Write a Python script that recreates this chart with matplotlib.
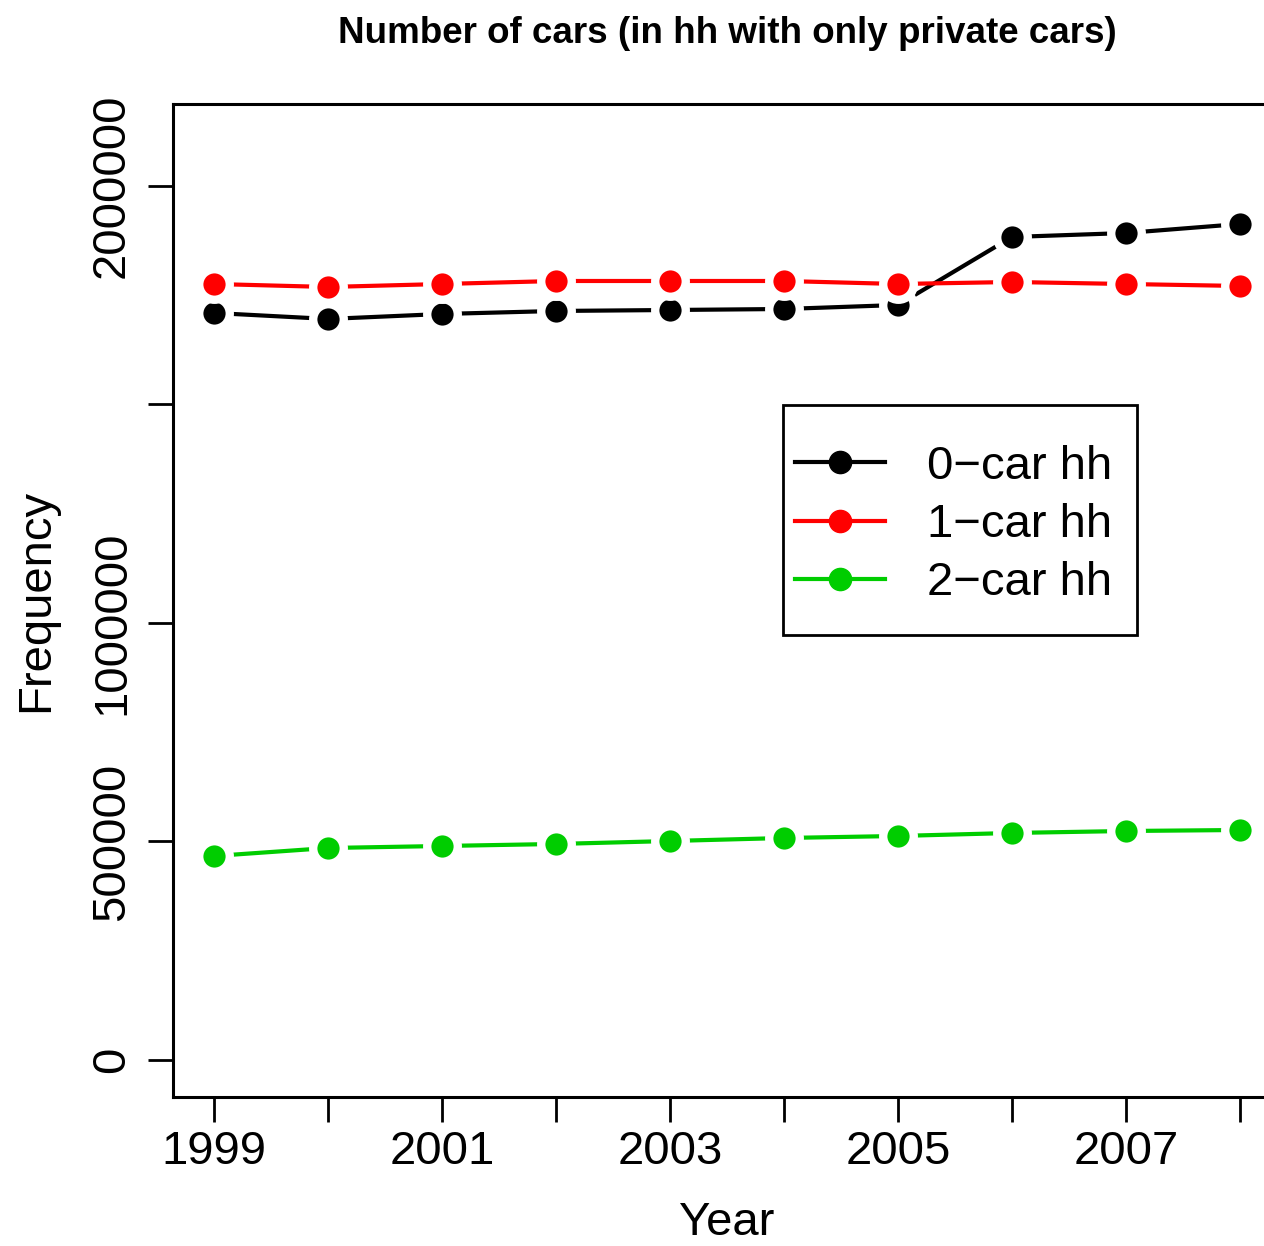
import numpy as np
import matplotlib
matplotlib.use('Agg')
from matplotlib import pyplot as plt
from matplotlib.patches import Rectangle

plt.rcParams['font.family'] = ['Liberation Sans', 'DejaVu Sans']

years = [1999, 2000, 2001, 2002, 2003, 2004, 2005, 2006, 2007, 2008]
cars0 = [1709400, 1695700, 1707100, 1714000, 1716200, 1718500, 1727700, 1883300, 1892400, 1913000]
cars1 = [1775700, 1768900, 1775700, 1782600, 1782600, 1782600, 1775700, 1780300, 1775700, 1771200]
cars2 = [466800, 485100, 489700, 494300, 501100, 508000, 512600, 519500, 524000, 526300]
labels = ['0\u2212car hh', '1\u2212car hh', '2\u2212car hh']
colors = ['black', '#FF0000', '#00CD00']

fig = plt.figure(figsize=(12.64, 12.46), dpi=100)
ax = fig.add_axes([173/1264, 1 - 1097/1246, 1108/1264, 993/1246])

# type="b" look: line first, then points with a white ring so the line stops short
for vals, lab, col in zip([cars0, cars1, cars2], labels, colors):
    ax.plot(years, vals, color=col, lw=3, zorder=2)
    ax.plot(years, vals, 'o', color=col, ms=22, mec='white', mew=6, zorder=3)
    ax.plot([], [], '-o', color=col, lw=3, ms=16, label=lab)

ax.set_xlim(1998.64, 2008.36)
ax.set_ylim(-84700, 2187600)
ax.set_xticks(years)
ax.set_xticklabels([str(y) if y % 2 == 1 else '' for y in years])
ax.set_yticks([0, 500000, 1000000, 1500000, 2000000])
ax.set_yticklabels(['0', '500000', '1000000', '', '2000000'], rotation=90, va='center')
ax.tick_params(length=18, width=2, labelsize=34, pad=6)
ax.tick_params(axis='y', pad=10)
for s in ax.spines.values():
    s.set_linewidth(2.2)

ax.set_xlabel('Year', fontsize=34, labelpad=19)
ax.set_ylabel('Frequency', fontsize=34, labelpad=23)
ax.set_title('Number of cars (in hh with only private cars)', fontsize=26.5,
             fontweight='bold', pad=44)

leg = ax.legend(loc='upper left', bbox_to_anchor=(0.5614, 0.6566), borderaxespad=0,
                fontsize=34, frameon=False, borderpad=0,
                handlelength=1.9, handletextpad=0.9, labelspacing=0.3)
ax.add_patch(Rectangle((0.5505, 0.4653), 0.3195, 0.2316, transform=ax.transAxes,
                       fill=False, edgecolor='black', lw=2, zorder=5))

fig.savefig('out.png', dpi=100)
